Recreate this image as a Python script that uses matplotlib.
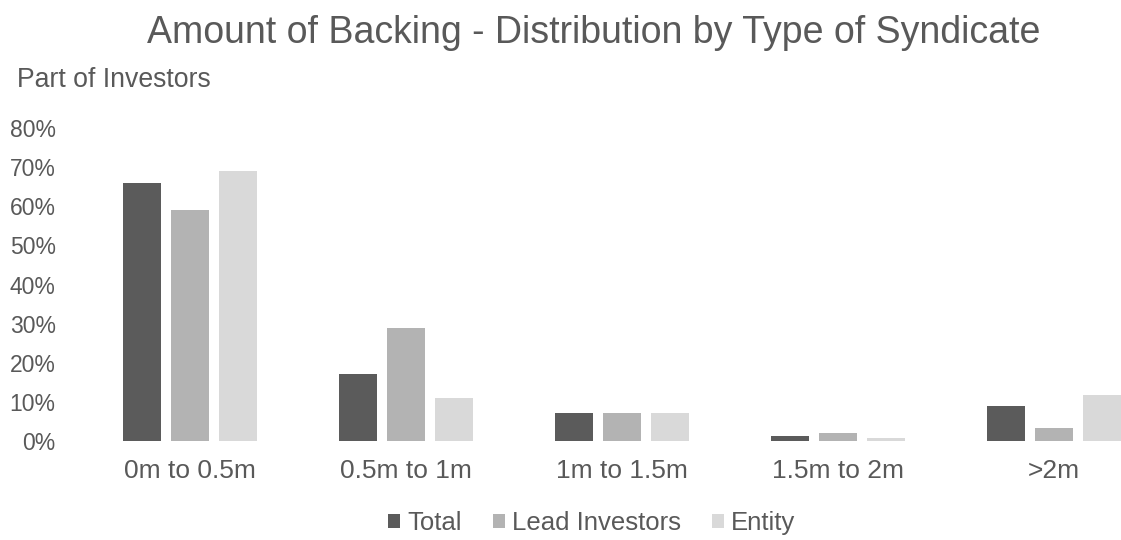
import numpy as np
import matplotlib.pyplot as plt

plt.rcParams['font.family'] = ['Liberation Sans', 'DejaVu Sans']

# data
categories = ['0m to 0.5m', '0.5m to 1m', '1m to 1.5m', '1.5m to 2m', '>2m']
total = [0.66, 0.17, 0.072, 0.012, 0.09]
lead = [0.59, 0.29, 0.072, 0.021, 0.034]
entity = [0.69, 0.11, 0.072, 0.008, 0.118]
series = ['Total', 'Lead Investors', 'Entity']
colors = ['#5b5b5b', '#b3b3b3', '#d9d9d9']
yticks = [0, 0.1, 0.2, 0.3, 0.4, 0.5, 0.6, 0.7, 0.8]

txt = '#595959'
W, H = 1121, 540
fig = plt.figure(figsize=(W / 100, H / 100), dpi=100)
ax = fig.add_axes([82 / W, 99 / H, (W - 82) / W, (441 - 128) / H])

x = np.arange(len(categories))
bw = 0.176
step = 0.222
for i, (vals, name, c) in enumerate(zip([total, lead, entity], series, colors)):
    ax.bar(x + (i - 1) * step, vals, width=bw, color=c, label=name)

ax.set_xlim(-0.5, 4.31)
ax.set_ylim(0, 0.8)
ax.set_yticks(yticks)
ax.set_yticklabels(['%d%%' % round(v * 100) for v in yticks])
ax.set_xticks(x)
ax.set_xticklabels(categories)
ax.tick_params(axis='y', length=0, pad=19, labelsize=16.5, labelcolor=txt)
ax.tick_params(axis='x', length=0, pad=13, labelsize=19, labelcolor=txt)
for s in ax.spines.values():
    s.set_visible(False)

fig.text(594 / W, 1 - 33 / H, 'Amount of Backing - Distribution by Type of Syndicate',
         ha='center', va='center', fontsize=27, color=txt)
fig.text(17 / W, 1 - 80 / H, 'Part of Investors', ha='left', va='center',
         fontsize=19.2, color=txt)

fig.legend(loc='center', bbox_to_anchor=(592 / W, 1 - 523 / H), ncol=3,
           frameon=False, fontsize=18.5, labelcolor=txt, handlelength=0.45,
           handleheight=0.45, handletextpad=0.3, columnspacing=1.2)

fig.savefig('out.png', dpi=100)
